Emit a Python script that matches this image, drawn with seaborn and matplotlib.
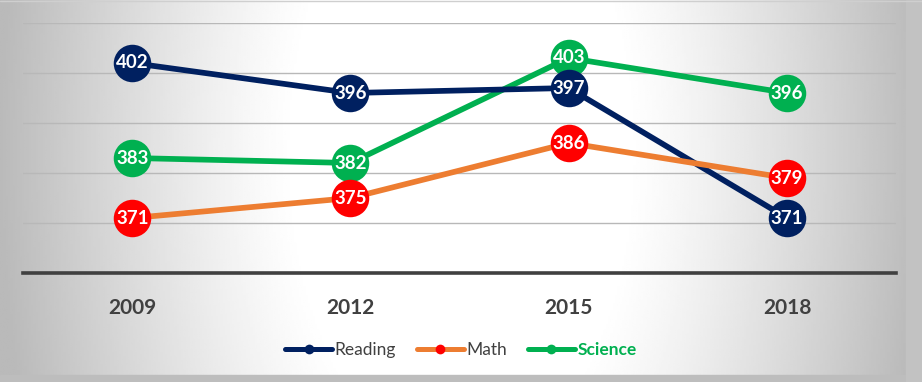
import numpy as np
import pandas as pd
import matplotlib
matplotlib.use("Agg")
import matplotlib.pyplot as plt
from matplotlib.lines import Line2D
import seaborn as sns

years = ["2009", "2012", "2015", "2018"]
reading = [402, 396, 397, 371]
math = [371, 375, 386, 379]
science = [383, 382, 403, 396]

series = ["Reading", "Math", "Science"]
values = {"Reading": reading, "Math": math, "Science": science}
line_colors = {"Reading": "#002060", "Math": "#ED7D31", "Science": "#00B050"}
marker_colors = {"Reading": "#002060", "Math": "#FF0000", "Science": "#00B050"}
# drawing order: Science at the back, Math in front
zorders = {"Science": 3, "Reading": 4, "Math": 5}

df = pd.DataFrame(
    [(s, y, v) for s in series for y, v in zip(years, values[s])],
    columns=["Subject", "Year", "Score"],
)

sns.set_theme(style="white")
plt.rcParams["font.family"] = ["Lato", "DejaVu Sans"]

fig = plt.figure(figsize=(9.22, 3.82), dpi=100)

# soft grey-to-white background, mostly a horizontal fade
bg = fig.add_axes([0, 0, 1, 1], zorder=-10)
gx, gy = np.meshgrid(np.linspace(0, 1, 400), np.linspace(0, 1, 200))
d = np.sqrt(((gx - 0.5) / 0.5) ** 2 + ((gy - 0.6) / 2.2) ** 2)
shade = 1 - 0.27 * np.clip((d - 0.36) / 0.64, 0, 1) ** 1.2
bg.imshow(shade, cmap="gray", vmin=0, vmax=1, extent=[0, 1, 0, 1],
          aspect="auto", origin="lower")
bg.axhspan(0, 0.018, color="#bdbdbd")
bg.axvspan(0.983, 1, color="#c2c2c2")
bg.axhline(0.997, color="#cfcfcf", lw=1)
bg.set_xlim(0, 1)
bg.set_ylim(0, 1)
bg.axis("off")

ax = fig.add_axes([0.025, 0.2853, 0.947, 0.6545])
ax.set_facecolor("none")

for s in series:
    sub = df[df["Subject"] == s]
    sns.lineplot(data=sub, x="Year", y="Score", color=line_colors[s],
                 lw=4.1, ax=ax, zorder=zorders[s], legend=False)
    sns.scatterplot(data=sub, x="Year", y="Score", color=marker_colors[s],
                    s=27 ** 2, linewidth=0, ax=ax, zorder=zorders[s] + 0.5,
                    legend=False)
    for y, v in zip(sub["Year"], sub["Score"]):
        ax.text(y, v, str(v), ha="center", va="center", color="white",
                fontsize=13.5, fontweight="bold", zorder=10)

ax.set_xlim(-0.5, 3.5)
ax.set_ylim(360, 410)
ax.set_yticks([370, 380, 390, 400, 410])
ax.set_yticklabels([])
ax.grid(True, axis="y", color="#b8b8b8", lw=1)
ax.set_axisbelow(True)
ax.tick_params(axis="both", length=0)
ax.tick_params(axis="x", pad=18)
for lab in ax.get_xticklabels():
    lab.set_fontsize(15)
    lab.set_fontweight("bold")
    lab.set_color("#404040")
ax.set_xlabel("")
ax.set_ylabel("")

for side in ["top", "left", "right"]:
    ax.spines[side].set_visible(False)
ax.spines["bottom"].set_color("#404040")
ax.spines["bottom"].set_linewidth(2.6)

handles = [
    Line2D([], [], color=line_colors[s], lw=3.6, marker="o", markersize=7,
           markerfacecolor=marker_colors[s], markeredgewidth=0)
    for s in series
]
leg = fig.legend(handles, series, loc="center", bbox_to_anchor=(0.5, 0.084),
                 ncol=3, frameon=False, fontsize=12.5, handlelength=2.7,
                 handletextpad=0.15, columnspacing=1.2)
for t in leg.get_texts():
    t.set_color("#404040")
leg.get_texts()[2].set_color("#00B050")
leg.get_texts()[2].set_fontweight("bold")

fig.savefig("out.png", dpi=100)
